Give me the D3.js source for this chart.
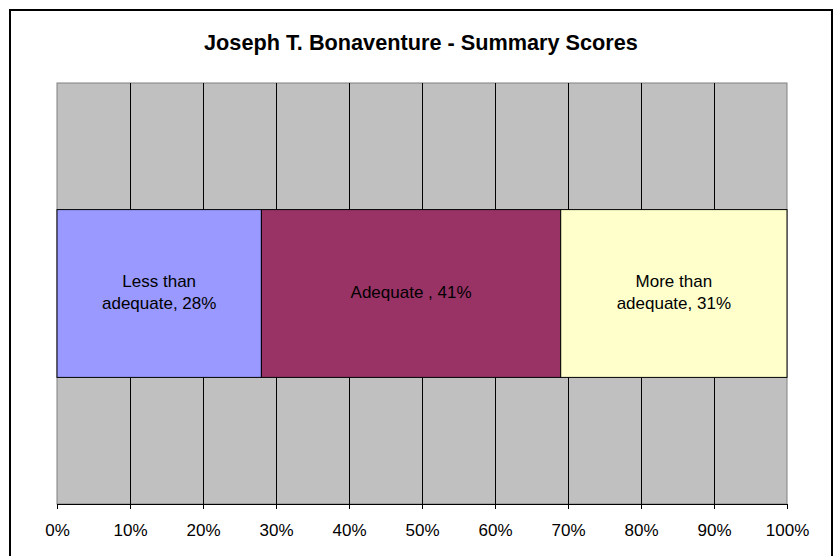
<!DOCTYPE html>
<html>
<head>
<meta charset="utf-8">
<script src="https://cdnjs.cloudflare.com/ajax/libs/d3/7.8.5/d3.min.js"></script>
<style>
  body { margin: 0; background: #fff; }
  svg { display: block; font-family: "Liberation Sans", Arial, sans-serif; }
</style>
</head>
<body>
<div id="chart"></div>
<script>
// chart data
var title = "Joseph T. Bonaventure - Summary Scores";
var categories = ["Less than adequate", "Adequate ", "More than adequate"];
var labelLines = [["Less than", "adequate, 28%"], ["Adequate , 41%"], ["More than", "adequate, 31%"]];
var values = [28, 41, 31];
var colors = ["#9999FF", "#993366", "#FFFFCC"];
var ticks = [0, 10, 20, 30, 40, 50, 60, 70, 80, 90, 100];
var rowName = ["Summary"];

var width = 839, height = 556;
var margin = {top: 83, right: 52, bottom: 52, left: 57};
var plotW = width - margin.left - margin.right,
    plotH = height - margin.top - margin.bottom;

var svg = d3.select("#chart").append("svg")
  .attr("width", width)
  .attr("height", height);

// outer chart frame
svg.append("rect")
  .attr("x", 10).attr("y", 10)
  .attr("width", 822).attr("height", 560)
  .attr("fill", "#fff")
  .attr("stroke", "#000")
  .attr("stroke-width", 2);

svg.append("text")
  .attr("x", 421).attr("y", 50)
  .attr("text-anchor", "middle")
  .style("font-size", "21.7px")
  .style("font-weight", "bold")
  .text(title);

var g = svg.append("g")
  .attr("transform", "translate(" + margin.left + "," + margin.top + ")");

var x = d3.scaleLinear().domain([0, 100]).range([0, plotW]);
var y = d3.scaleBand().domain(rowName).range([0, plotH]).padding(0.43);

// plot background
g.append("rect")
  .attr("width", plotW).attr("height", plotH)
  .attr("fill", "#C0C0C0")
  .attr("stroke", "#808080")
  .attr("stroke-width", 1);

// vertical gridlines
g.selectAll(".grid")
  .data(ticks.slice(1, -1))
  .enter().append("line")
  .attr("class", "grid")
  .attr("x1", function(d) { return Math.round(x(d)) + 0.5; })
  .attr("x2", function(d) { return Math.round(x(d)) + 0.5; })
  .attr("y1", 0).attr("y2", plotH)
  .attr("stroke", "#000");

// stacked segments
var starts = [];
var acc = 0;
values.forEach(function(v) { starts.push(acc); acc += v; });

g.selectAll(".bar")
  .data(values)
  .enter().append("rect")
  .attr("class", "bar")
  .attr("x", function(d, i) { return x(starts[i]); })
  .attr("width", function(d) { return x(d) - x(0); })
  .attr("y", y(rowName[0]))
  .attr("height", y.bandwidth())
  .attr("fill", function(d, i) { return colors[i]; })
  .attr("stroke", "#000")
  .attr("stroke-width", 1);

// segment labels
var cy = y(rowName[0]) + y.bandwidth() / 2;
labelLines.forEach(function(lines, i) {
  var cx = x(starts[i] + values[i] / 2);
  var t = g.append("text")
    .attr("text-anchor", "middle")
    .style("font-size", "17px")
    .attr("fill", "#000");
  lines.forEach(function(line, k) {
    var dy = (k - (lines.length - 1) / 2) * 22;
    t.append("tspan")
      .attr("x", cx)
      .attr("y", cy + dy - 1)
      .attr("dy", "0.35em")
      .text(line);
  });
});

// x axis
var axis = g.append("g")
  .attr("transform", "translate(0," + plotH + ")")
  .call(d3.axisBottom(x)
    .tickValues(ticks)
    .tickSize(5)
    .tickPadding(15)
    .tickFormat(function(d) { return d + "%"; }));
axis.select(".domain").attr("stroke", "#000");
axis.selectAll(".tick line").attr("stroke", "#000");
axis.selectAll("text")
  .style("font-size", "17px")
  .style("font-family", "Liberation Sans, Arial, sans-serif")
  .attr("fill", "#000");
</script>
</body>
</html>
